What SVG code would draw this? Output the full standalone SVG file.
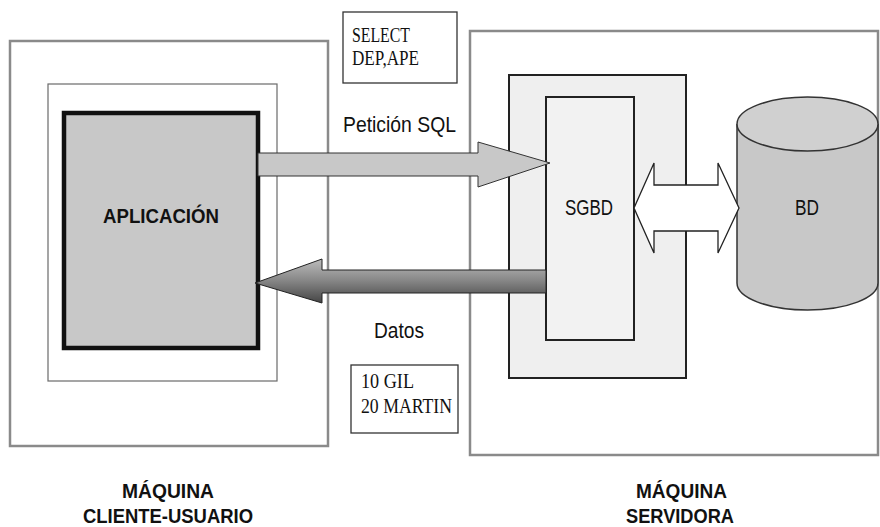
<svg xmlns="http://www.w3.org/2000/svg" width="880" height="527" viewBox="0 0 880 527">
<defs>
<style>
.machine{fill:#fff;stroke:#8a8a8a;stroke-width:2.5}
.thin{fill:#fff;stroke:#6a6a6a;stroke-width:1.2}
.box{stroke:#222;stroke-width:2}
.sans{font-family:"Liberation Sans",Arial,sans-serif;fill:#111}
.bold{font-family:"Liberation Sans",Arial,sans-serif;font-weight:bold;fill:#111}
.serif{font-family:"Liberation Serif","Times New Roman",serif;fill:#111}
.note{fill:#fff;stroke:#333;stroke-width:1.3}
</style>
<linearGradient id="gdark" gradientUnits="userSpaceOnUse" x1="0" y1="259" x2="0" y2="303">
<stop offset="0" stop-color="#bcbcbc"/>
<stop offset="0.5" stop-color="#858585"/>
<stop offset="1" stop-color="#454545"/>
</linearGradient>
</defs>
<rect width="880" height="527" fill="#fff"/>

<g id="cliente">
<rect class="machine" x="10" y="41" width="318" height="405"/>
<rect class="thin" x="48" y="84" width="229" height="297"/>
<text class="bold" x="122" y="498" font-size="21" textLength="92" lengthAdjust="spacingAndGlyphs">MÁQUINA</text>
<text class="bold" x="83" y="523" font-size="21" textLength="170" lengthAdjust="spacingAndGlyphs">CLIENTE-USUARIO</text>
</g>

<g id="aplicacion">
<rect x="64" y="113" width="194" height="235" fill="#c8c8c8" stroke="#111" stroke-width="4.5"/>
<text class="bold" x="103" y="223" font-size="21" textLength="116" lengthAdjust="spacingAndGlyphs">APLICACIÓN</text>
</g>

<g id="servidor">
<rect class="machine" x="470" y="31" width="408" height="424"/>
<rect class="box" x="509" y="75" width="177" height="303" fill="#efefef"/>
<text class="bold" x="636" y="498" font-size="21" textLength="91" lengthAdjust="spacingAndGlyphs">MÁQUINA</text>
<text class="bold" x="626" y="523" font-size="21" textLength="108" lengthAdjust="spacingAndGlyphs">SERVIDORA</text>
</g>

<g id="sgbd">
<rect class="box" x="546" y="97" width="88" height="243" fill="#f2f2f2"/>
<text class="sans" x="565" y="215" font-size="22" textLength="48" lengthAdjust="spacingAndGlyphs">SGBD</text>
</g>

<g id="bd">
<path d="M737,124 L737,283 A70.5,27 0 0 0 878,283 L878,124" fill="#c8c8c8" stroke="#333" stroke-width="1.5"/>
<ellipse cx="807.5" cy="124" rx="70.5" ry="27" fill="#d0d0d0" stroke="#333" stroke-width="1.5"/>
<text class="sans" x="795" y="215" font-size="22" textLength="24" lengthAdjust="spacingAndGlyphs">BD</text>
</g>

<g id="select">
<rect class="note" x="343" y="12" width="114" height="71"/>
<text class="serif" x="352" y="42" font-size="21" textLength="58" lengthAdjust="spacingAndGlyphs">SELECT</text>
<text class="serif" x="352" y="65" font-size="21" textLength="67" lengthAdjust="spacingAndGlyphs">DEP,APE</text>
</g>

<g id="datos-tabla">
<rect class="note" x="351" y="365" width="107" height="68"/>
<text class="serif" x="361" y="388" font-size="20" textLength="53" lengthAdjust="spacingAndGlyphs">10 GIL</text>
<text class="serif" x="361" y="413" font-size="20" textLength="91" lengthAdjust="spacingAndGlyphs">20 MARTIN</text>
</g>

<g id="connectors">
<polygon points="258,153 478,153 478,142 550,163 478,187 478,176 258,176" fill="#c8c8c8" stroke="#333" stroke-width="1"/>
<polygon points="546,270 322,270 322,259 255,283 322,303 322,293 546,293" fill="url(#gdark)" stroke="#222" stroke-width="1"/>
<polygon points="634,208 654,163 654,185 718,185 718,163 739,208 718,253 718,231 654,231 654,253" fill="#fff" stroke="#222" stroke-width="1.3"/>
<text class="sans" x="343" y="132" font-size="22" textLength="113" lengthAdjust="spacingAndGlyphs">Petición SQL</text>
<text class="sans" x="374" y="338" font-size="22" textLength="50" lengthAdjust="spacingAndGlyphs">Datos</text>
</g>
</svg>
